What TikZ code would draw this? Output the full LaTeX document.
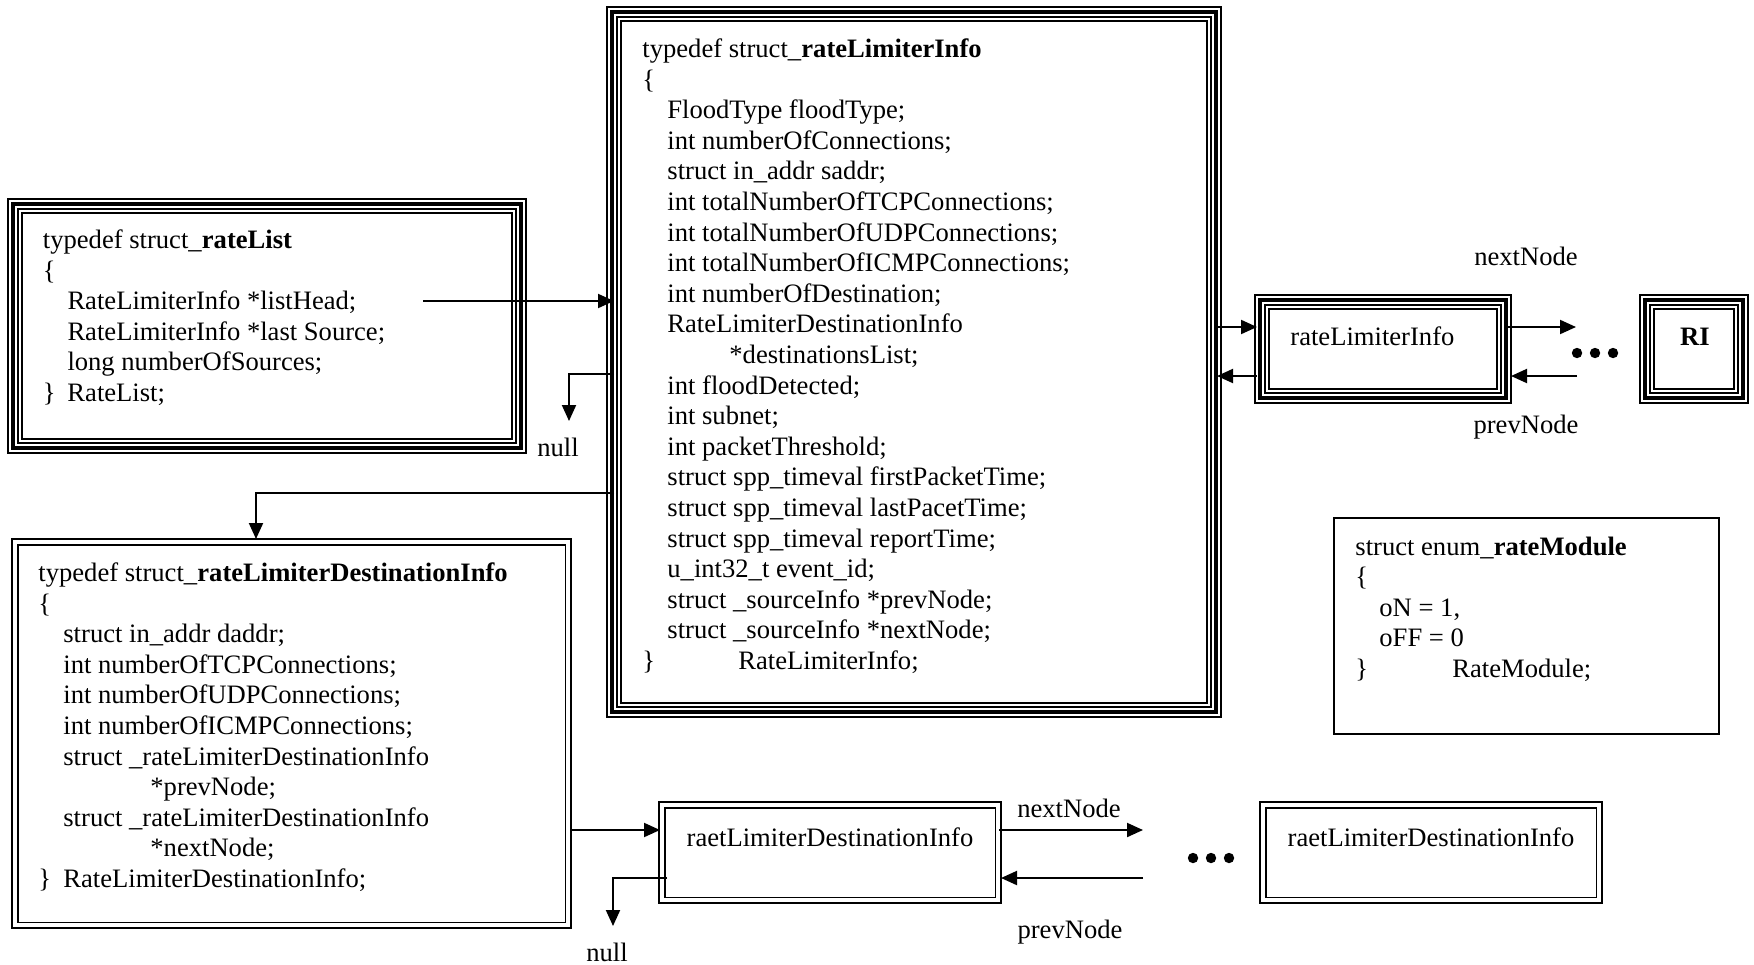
\documentclass[tikz,border=0pt]{standalone}
\usepackage{fontspec}
\setmainfont{Liberation Serif}
\usetikzlibrary{arrows.meta,fit,calc}

% thin / thick / thin / thin frame round a fitted node
\newcommand{\tripleframe}[1]{%
  \draw[line width=0.85pt] (#1.north west) rectangle (#1.south east);
  \draw[line width=2.2pt] ([shift={(4.9,4.9)}]#1.north west) rectangle ([shift={(-4.9,-4.9)}]#1.south east);
  \draw[line width=0.85pt] ([shift={(10.3,10.3)}]#1.north west) rectangle ([shift={(-10.3,-10.3)}]#1.south east);
  \draw[line width=0.85pt] ([shift={(13.8,13.8)}]#1.north west) rectangle ([shift={(-13.8,-13.8)}]#1.south east);}
% thick / thin double frame
\newcommand{\doubleframe}[1]{%
  \draw[line width=1.2pt] (#1.north west) rectangle (#1.south east);
  \draw[line width=0.9pt] ([shift={(5.6,5.6)}]#1.north west) rectangle ([shift={(-5.6,-5.6)}]#1.south east);}

\begin{document}
\begin{tikzpicture}[x=0.5pt,y=-0.5pt,
  font=\fontsize{13.3}{15.3}\selectfont,
  box/.style={inner sep=0pt, outer sep=0pt},
  code/.style={anchor=base west, align=left, inner sep=0pt},
  lbl/.style={anchor=base, inner sep=0pt},
  link/.style={line width=1pt, -{Triangle[length=8pt,width=7pt]}},
  dot/.style={fill=black}]
\useasboundingbox (0,0) rectangle (1754,964);

% ---- boxes ----
\node[box, fit={(8,199) (526,453)}] (rl) {};
\node[box, fit={(607,7) (1221,717)}] (info) {};
\node[box, fit={(12,539) (571,928)}] (dest) {};
\node[box, fit={(1255,295) (1511,403)}] (rli) {};
\node[box, fit={(1640,295) (1748,403)}] (ri) {};
\node[box, fit={(1334,518) (1719,734)}] (mod) {};
\node[box, fit={(659,802) (1001,903)}] (d1) {};
\node[box, fit={(1260,802) (1602,903)}] (d2) {};

\tripleframe{rl}
\tripleframe{info}
\tripleframe{rli}
\tripleframe{ri}
\doubleframe{dest}
\doubleframe{d1}
\doubleframe{d2}
\draw[line width=0.75pt] (mod.north west) rectangle (mod.south east);

% ---- struct listings (anchored at the baseline of their last line) ----
\node[code] (rltext) at (42.5,401.5) {typedef struct\_\textbf{rateList}\\
\{\\
\hspace*{12.3pt}RateLimiterInfo *listHead;\\
\hspace*{12.3pt}RateLimiterInfo *last Source;\\
\hspace*{12.3pt}long numberOfSources;\\
\makebox[12.3pt][l]{\}}RateList;};

\node[code] (infotext) at (642,669.5) {typedef struct\_\textbf{rateLimiterInfo}\\
\{\\
\hspace*{12.5pt}FloodType floodType;\\
\hspace*{12.5pt}int numberOfConnections;\\
\hspace*{12.5pt}struct in\_addr saddr;\\
\hspace*{12.5pt}int totalNumberOfTCPConnections;\\
\hspace*{12.5pt}int totalNumberOfUDPConnections;\\
\hspace*{12.5pt}int totalNumberOfICMPConnections;\\
\hspace*{12.5pt}int numberOfDestination;\\
\hspace*{12.5pt}RateLimiterDestinationInfo\\
\hspace*{43.5pt}*destinationsList;\\
\hspace*{12.5pt}int floodDetected;\\
\hspace*{12.5pt}int subnet;\\
\hspace*{12.5pt}int packetThreshold;\\
\hspace*{12.5pt}struct spp\_timeval firstPacketTime;\\
\hspace*{12.5pt}struct spp\_timeval lastPacetTime;\\
\hspace*{12.5pt}struct spp\_timeval reportTime;\\
\hspace*{12.5pt}u\_int32\_t event\_id;\\
\hspace*{12.5pt}struct \_sourceInfo *prevNode;\\
\hspace*{12.5pt}struct \_sourceInfo *nextNode;\\
\makebox[48pt][l]{\}}RateLimiterInfo;};

\node[code] (desttext) at (38,887.5) {typedef struct\_\textbf{rateLimiterDestinationInfo}\\
\{\\
\hspace*{12.5pt}struct in\_addr daddr;\\
\hspace*{12.5pt}int numberOfTCPConnections;\\
\hspace*{12.5pt}int numberOfUDPConnections;\\
\hspace*{12.5pt}int numberOfICMPConnections;\\
\hspace*{12.5pt}struct \_rateLimiterDestinationInfo\\
\hspace*{56pt}*prevNode;\\
\hspace*{12.5pt}struct \_rateLimiterDestinationInfo\\
\hspace*{56pt}*nextNode;\\
\makebox[12.5pt][l]{\}}RateLimiterDestinationInfo;};

\node[code] (modtext) at (1355,677.5) {struct enum\_\textbf{rateModule}\\
\{\\
\hspace*{12pt}oN = 1,\\
\hspace*{12pt}oFF = 0\\
\makebox[48.5pt][l]{\}}RateModule;};

% ---- list element labels ----
\node[anchor=base west, inner sep=0pt] (rlitext) at (1290,345) {rateLimiterInfo};
\node[lbl] (ritext) at (1695,345) {\textbf{RI}};
\node[lbl] (d1text) at (830,846) {raetLimiterDestinationInfo};
\node[lbl] (d2text) at (1431,846) {raetLimiterDestinationInfo};

\node[lbl] (nxt1) at (1526,265) {nextNode};
\node[lbl] (prv1) at (1526,433) {prevNode};
\node[lbl] (null1) at (558,456) {null};
\node[lbl] (nxt2) at (1069,817) {nextNode};
\node[lbl] (prv2) at (1070,938) {prevNode};
\node[lbl] (null2) at (607,961) {null};

% ---- free ends ----
\coordinate (lhStart) at (423,301);
\coordinate (nullTip) at (569,421);
\coordinate (nextEnd) at (1576,327);
\coordinate (prevStart) at (1577,376);
\coordinate (nullTipB) at (613,926);
\coordinate (dNextEnd) at (1143,830);
\coordinate (dPrevStart) at (1143,878);

% ---- pointers ----
\draw[link] (lhStart) -- ($(info.west |- lhStart)+(7,0)$);
\draw[link] ($(info.north west)+(7,367)$) -| (nullTip);
\draw[link] ($(info.north west)+(7,486)$) -| ($(dest.north west)+(244,0)$);

\draw[link] ($(info.north east)+(-6,320)$) -- ($(rli.north west)+(2,32)$);
\draw[link] ($(rli.north west)+(2,81)$) -- ($(info.north east)+(-4,369)$);
\draw[link] ($(rli.north east)+(-6,32)$) -- (nextEnd);
\draw[link] (prevStart) -- ($(rli.north east)+(0,81)$);

\draw[link] ($(dest.north east)+(0,291)$) -- ($(d1.north west)+(1,28)$);
\draw[link] ($(d1.north west)+(8,76)$) -| (nullTipB);
\draw[link] ($(d1.north east)+(-2,28)$) -- (dNextEnd);
\draw[link] (dPrevStart) -- ($(d1.north east)+(0,76)$);

% ---- ellipses ----
\foreach \cx in {1577,1595,1613} \fill (\cx,353) circle[radius=2.6pt];
\foreach \cx in {1193,1211,1229} \fill (\cx,858) circle[radius=2.6pt];
\end{tikzpicture}
\end{document}
